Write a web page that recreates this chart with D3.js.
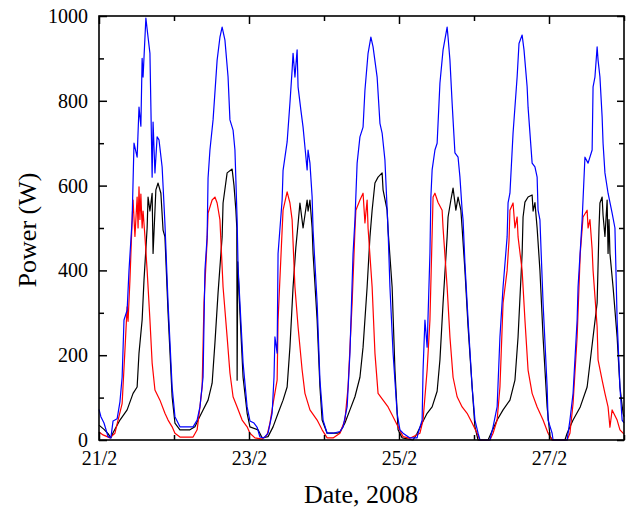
<!DOCTYPE html>
<html>
<head>
<meta charset="utf-8">
<script src="https://cdn.jsdelivr.net/npm/d3@7"></script>
<style>
  html, body { margin: 0; padding: 0; background: #fff; }
  svg { display: block; }
  text { font-family: "Liberation Serif", "Times New Roman", serif; fill: #000; }
</style>
</head>
<body>
<svg id="chart" width="627" height="510"></svg>
<script>
// Time axis: hours since 21/2/2008 00:00
const majorDayTicks = [0, 48, 96, 144];
const majorDayLabels = ["21/2", "23/2", "25/2", "27/2"];
const minorDayTicks = [24, 72, 120, 168];
const majorPowerTicks = [0, 200, 400, 600, 800, 1000];
const minorPowerTicks = [100, 300, 500, 700, 900];

// Blue series [hour, W]
const blueSeries = [
  [0,72],[0.6,55],[1.6,40],[2.9,8],[3.8,5],[4.5,45],[5.8,50],[6.7,90],[7.4,148],[8.0,283],
  [9.0,306],[9.6,400],[10.6,519],[11.2,700],[12.2,667],[12.8,785],[13.4,740],[13.8,900],[14.1,856],[15.0,995],
  [15.7,950],[16.3,912],[17.0,620],[17.3,750],[17.9,630],[18.6,715],[19.2,708],[20.2,644],[21.1,510],[22.1,323],
  [23.4,125],[24.3,55],[25.9,31],[30.1,31],[31.4,47],[32.3,78],[33.3,148],[33.9,400],[34.6,479],[34.9,618],
  [35.5,684],[36.5,755],[37.8,896],[38.7,950],[39.4,974],[40.3,943],[41.3,856],[41.9,755],[42.9,731],[43.5,684],
  [44.2,519],[44.5,408],[45.1,323],[46.1,182],[47.4,78],[48.3,45],[49.6,40],[50.6,30],[51.5,7],[52.8,5],
  [54.1,16],[55.4,63],[56.0,148],[56.3,243],[57.0,205],[57.3,440],[58.6,566],[58.9,636],[60.2,703],[61.1,795],
  [61.8,873],[62.1,912],[62.7,856],[63.4,920],[63.7,833],[64.6,778],[65.3,738],[65.9,691],[66.6,637],[66.9,684],
  [67.5,653],[68.2,573],[68.5,495],[69.8,323],[70.7,141],[71.7,47],[73.0,16],[74.9,16],[77.1,20],[78.1,31],
  [79.4,78],[80.3,205],[81.3,440],[81.9,519],[82.6,653],[83.5,715],[84.5,738],[85.1,825],[86.1,912],[87.0,950],
  [87.7,927],[89.0,856],[89.9,747],[90.6,724],[91.5,660],[92.5,495],[93.1,361],[94.1,205],[95.4,63],[96.3,24],
  [97.3,16],[99.5,5],[101.8,5],[102.1,16],[103.4,47],[103.7,165],[104.3,283],[105.0,219],[105.9,440],[106.2,573],
  [106.6,637],[107.5,684],[108.2,700],[109.1,842],[110.1,920],[111.4,974],[111.7,950],[112.3,896],[113.0,795],[113.3,755],
  [113.9,677],[114.9,667],[115.5,620],[116.2,542],[116.5,519],[117.1,417],[118.1,283],[119.4,125],[120.3,47],[121.3,16],
  [121.9,0],[125.1,0],[126.1,31],[127.4,78],[128.3,243],[129.3,361],[130.6,479],[130.9,559],[131.5,582],[132.5,724],
  [133.8,856],[134.4,935],[135.4,955],[136.0,920],[137.0,833],[137.3,785],[138.6,653],[139.5,644],[140.2,620],[140.5,542],
  [141.1,519],[142.1,323],[143.4,125],[143.7,47],[145.0,16],[145.3,0],[149.8,0],[150.7,47],[151.7,110],[153.0,283],
  [153.3,361],[154.6,519],[155.5,667],[156.5,653],[157.8,684],[158.1,833],[158.7,856],[159.4,927],[159.7,896],[160.3,856],
  [161.0,762],[161.3,700],[161.9,630],[162.9,582],[164.2,535],[165.1,500],[165.8,283],[166.7,125],[167.4,47],[168,40]
];

// Black series [hour, W]
const blackSeries = [
  [0,35],[1.6,25],[2.9,15],[3.8,5],[4.5,17],[6.7,47],[9.0,71],[10.9,110],[12.2,125],[12.8,205],
  [13.8,283],[14.4,377],[15.4,500],[15.7,573],[16.3,540],[17.0,582],[17.3,440],[18.2,590],[18.9,606],[19.8,582],
  [20.5,495],[21.1,479],[22.1,300],[23.4,102],[24.3,40],[25.9,24],[29.1,24],[30.7,31],[31.7,47],[33.3,71],
  [34.9,94],[36.2,134],[37.1,229],[38.1,347],[39.4,479],[39.7,559],[41.0,630],[42.6,639],[43.2,600],[43.8,542],
  [44.1,500],[44.2,141],[44.4,420],[45.1,300],[46.1,148],[47.4,63],[48.3,31],[50.9,24],[52.2,5],[54.1,8],
  [55.7,31],[57.3,63],[58.9,94],[60.2,125],[61.1,219],[62.1,361],[63.0,455],[63.7,510],[64.3,559],[65.3,500],
  [66.6,566],[66.9,540],[67.5,566],[68.2,500],[68.5,440],[69.8,283],[70.7,125],[71.4,47],[73.0,16],[76.2,16],
  [77.1,18],[78.7,40],[80.3,71],[81.9,102],[83.5,148],[84.5,219],[85.8,361],[86.7,479],[87.4,542],[88.3,606],
  [89.3,620],[90.6,630],[90.9,590],[92.2,542],[92.5,495],[93.8,361],[94.7,165],[95.7,24],[97.0,5],[100.5,0],
  [101.8,16],[103.4,40],[105.0,63],[106.6,78],[108.2,115],[109.1,189],[110.1,323],[111.4,479],[111.7,526],[112.6,566],
  [113.3,594],[114.2,542],[114.9,573],[115.8,542],[116.2,500],[117.1,400],[118.1,267],[119.4,125],[120.3,31],[121.3,0],
  [124.5,0],[125.1,10],[127.4,47],[129.3,71],[131.5,94],[133.1,141],[134.1,243],[135.4,440],[135.7,526],[136.3,561],
  [137.3,573],[138.6,578],[138.9,540],[139.5,560],[140.2,500],[141.1,400],[142.1,243],[143.4,78],[144.3,10],[145.0,0],
  [149.1,0],[149.8,16],[151.7,47],[154.0,78],[156.2,125],[158.1,243],[159.4,323],[160.0,500],[160.3,559],[161.0,573],
  [161.3,530],[161.9,480],[162.6,566],[162.9,440],[163.2,520],[163.5,440],[164.5,361],[165.8,243],[166.7,125],[167.7,63],
  [168,55]
];

// Red series [hour, W]
const redSeries = [
  [0,19],[1.3,12],[3.5,5],[5.1,16],[6.1,47],[7.4,86],[8.3,212],[9.0,314],[9.3,280],[9.9,377],
  [10.6,519],[10.9,566],[11.5,480],[12.2,573],[12.5,500],[12.8,597],[13.1,520],[13.4,580],[13.8,500],[14.1,540],
  [14.7,480],[15.4,400],[16.3,283],[17.0,182],[17.9,118],[19.5,94],[21.1,63],[22.1,47],[23.4,31],[24.3,16],
  [25.9,7],[30.1,7],[31.4,24],[32.3,78],[33.0,125],[33.6,323],[34.6,472],[34.9,535],[36.2,566],[37.1,573],
  [37.8,559],[38.7,519],[39.7,361],[41.0,243],[41.9,158],[42.9,102],[44.2,78],[45.8,47],[47.4,31],[48.3,16],
  [49.9,5],[52.2,2],[53.8,12],[54.7,40],[55.7,86],[57.0,141],[57.3,283],[58.6,495],[58.9,542],[60.2,585],
  [61.1,559],[61.8,519],[62.7,361],[63.7,267],[65.0,165],[65.9,110],[67.5,71],[69.8,47],[71.4,24],[73.0,5],
  [74.9,5],[77.1,16],[78.7,47],[79.7,125],[81.0,323],[81.9,495],[82.2,542],[83.5,566],[84.5,582],[85.1,512],
  [85.8,566],[86.1,500],[87.4,361],[88.3,205],[89.3,110],[90.9,94],[92.5,78],[94.1,55],[95.7,31],[97.3,8],
  [99.5,4],[102.7,16],[103.7,47],[105.0,165],[105.9,283],[106.9,573],[107.5,582],[108.5,560],[109.8,542],[110.1,500],
  [111.4,361],[112.3,243],[113.3,148],[114.6,102],[116.2,78],[117.8,63],[119.4,40],[121.0,16],[121.9,0],[125.1,0],
  [126.1,16],[127.4,47],[128.3,125],[129.3,323],[130.6,400],[131.2,470],[131.5,542],[132.5,559],[133.1,500],[133.8,526],
  [134.1,479],[135.4,400],[136.3,283],[137.3,165],[138.6,110],[140.2,78],[142.1,47],[143.7,16],[145.0,0],[149.8,0],
  [150.7,16],[151.7,86],[153.0,243],[154.0,440],[154.9,526],[156.2,542],[156.5,500],[157.1,520],[157.8,450],[158.1,400],
  [159.4,267],[159.7,189],[161.0,141],[161.9,110],[162.9,78],[163.5,30],[164.2,71],[165.8,47],[166.7,24],[168,14]
];

const svg = d3.select("#chart");
const plotLeft = 99, plotRight = 624, plotTop = 16, plotBottom = 440;

const x = d3.scaleLinear().domain([0, 168]).range([plotLeft, plotRight]);
const y = d3.scaleLinear().domain([0, 1000]).range([plotBottom, plotTop]);

const line = d3.line().x(d => x(d[0])).y(d => y(d[1]));

const plot = svg.append("g");
plot.append("path").datum(blackSeries).attr("d", line)
  .attr("fill", "none").attr("stroke", "#000").attr("stroke-width", 1.2).attr("stroke-linejoin", "round");
plot.append("path").datum(redSeries).attr("d", line)
  .attr("fill", "none").attr("stroke", "#ff0000").attr("stroke-width", 1.2).attr("stroke-linejoin", "round");
plot.append("path").datum(blueSeries).attr("d", line)
  .attr("fill", "none").attr("stroke", "#0000ff").attr("stroke-width", 1.2).attr("stroke-linejoin", "round");

function styleAxis(g) {
  g.select(".domain").remove();
  g.selectAll(".tick line").attr("stroke", "#000").attr("stroke-width", 1.5);
  g.selectAll("text").attr("font-family", "Liberation Serif, Times New Roman, serif")
    .attr("font-size", 20).attr("fill", "#000");
}

// bottom axis
svg.append("g").attr("transform", `translate(0,${plotBottom})`)
  .call(d3.axisBottom(x).tickValues(majorDayTicks).tickSize(-8).tickSizeOuter(0).tickPadding(11)
    .tickFormat((d, i) => majorDayLabels[i]))
  .call(styleAxis);
svg.append("g").attr("transform", `translate(0,${plotBottom})`)
  .call(d3.axisBottom(x).tickValues(minorDayTicks).tickSize(-5).tickSizeOuter(0).tickFormat(""))
  .call(styleAxis);
// top axis
svg.append("g").attr("transform", `translate(0,${plotTop})`)
  .call(d3.axisTop(x).tickValues(majorDayTicks).tickSize(-8).tickSizeOuter(0).tickFormat(""))
  .call(styleAxis);
svg.append("g").attr("transform", `translate(0,${plotTop})`)
  .call(d3.axisTop(x).tickValues(minorDayTicks).tickSize(-5).tickSizeOuter(0).tickFormat(""))
  .call(styleAxis);
// left axis
svg.append("g").attr("transform", `translate(${plotLeft},0)`)
  .call(d3.axisLeft(y).tickValues(majorPowerTicks).tickSize(-8).tickSizeOuter(0).tickPadding(11)
    .tickFormat(d3.format("d")))
  .call(styleAxis);
svg.append("g").attr("transform", `translate(${plotLeft},0)`)
  .call(d3.axisLeft(y).tickValues(minorPowerTicks).tickSize(-5).tickSizeOuter(0).tickFormat(""))
  .call(styleAxis);
// right axis
svg.append("g").attr("transform", `translate(${plotRight},0)`)
  .call(d3.axisRight(y).tickValues(majorPowerTicks).tickSize(-7).tickSizeOuter(0).tickFormat(""))
  .call(styleAxis);
svg.append("g").attr("transform", `translate(${plotRight},0)`)
  .call(d3.axisRight(y).tickValues(minorPowerTicks).tickSize(-5).tickSizeOuter(0).tickFormat(""))
  .call(styleAxis);

// frame
svg.append("rect").attr("x", plotLeft).attr("y", plotTop)
  .attr("width", plotRight - plotLeft).attr("height", plotBottom - plotTop)
  .attr("fill", "none").attr("stroke", "#000").attr("stroke-width", 1.6);

// axis titles
svg.append("text").attr("x", 361).attr("y", 503).attr("text-anchor", "middle")
  .attr("font-size", 26).text("Date, 2008");
svg.append("text").attr("transform", "translate(36,230) rotate(-90)").attr("text-anchor", "middle")
  .attr("font-size", 26).text("Power (W)");
</script>
</body>
</html>
